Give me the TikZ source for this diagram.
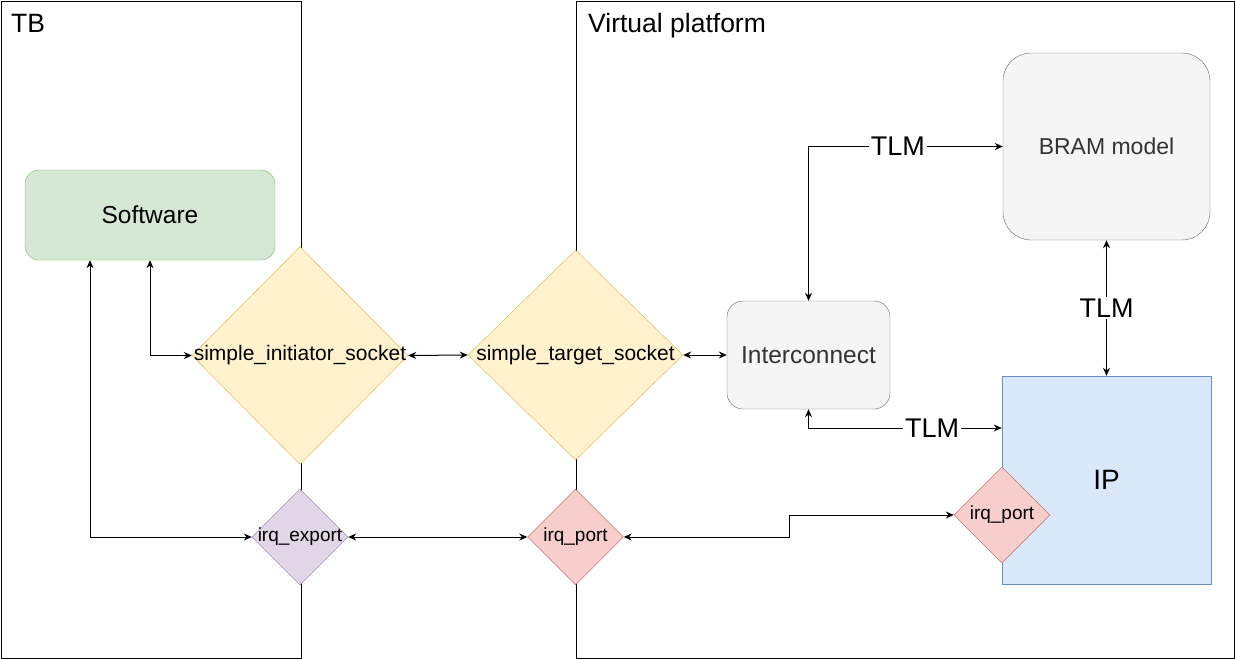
\documentclass[tikz,border=0pt]{standalone}
\usepackage{fontspec}
\setmainfont{Liberation Sans}
\usetikzlibrary{positioning, arrows.meta, shapes.geometric}
\definecolor{swFill}{HTML}{D5E8D4}
\definecolor{swDraw}{HTML}{82B366}
\definecolor{sockFill}{HTML}{FFF2CC}
\definecolor{sockDraw}{HTML}{D6B656}
\definecolor{expFill}{HTML}{E1D5E7}
\definecolor{expDraw}{HTML}{9673A6}
\definecolor{irqFill}{HTML}{F8CECC}
\definecolor{irqDraw}{HTML}{B85450}
\definecolor{modFill}{HTML}{F5F5F5}
\definecolor{modDraw}{HTML}{666666}
\definecolor{modText}{HTML}{333333}
\definecolor{ipFill}{HTML}{DAE8FC}
\definecolor{ipDraw}{HTML}{6C8EBF}

\begin{document}
\begin{tikzpicture}[
  x=1pt, y=-1pt,
  every node/.style={align=center},
  frame/.style={draw, line width=1pt, inner sep=0pt, anchor=north west},
  title/.style={font=\fontsize{26.5}{30}\selectfont, anchor=base west, inner sep=0pt},
  software/.style={
    fill=swFill,
    draw=swDraw,
    rounded corners=14pt,
    minimum width=250pt,
    minimum height=90pt,
    font=\fontsize{24.5}{28}\selectfont
  },
  model/.style={
    fill=modFill,
    draw=modDraw,
    text=modText,
    font=\fontsize{23}{28}\selectfont
  },
  socket/.style={
    diamond,
    fill=sockFill,
    draw=sockDraw,
    inner sep=0pt
  },
  irq/.style={
    diamond,
    fill=irqFill,
    draw=irqDraw,
    inner sep=0pt,
    minimum width=96pt,
    minimum height=96pt
  },
  socktxt/.style={font=\fontsize{21}{25}\selectfont, inner sep=0pt},
  irqtxt/.style={font=\fontsize{19}{23}\selectfont, inner sep=0pt},
  tlm/.style={font=\fontsize{27}{30}\selectfont, fill=white, inner sep=2pt},
  link/.style={draw, line width=1pt,
    {Stealth[length=8pt, width=7pt]}-{Stealth[length=8pt, width=7pt]}}
]
\useasboundingbox (0,0) rectangle (1235,659);

% containers
\node[frame, minimum width=300pt, minimum height=657pt] (tb) at (0.5,0.5) {};
\node[frame, minimum width=658pt, minimum height=657pt] (vp) at (575.5,0.5) {};
\node[title] (tbtitle) at (11,32) {TB};
\node[title] (vptitle) at (588,32) {Virtual platform};

% blocks
\node[software] (sw) at (150,215) {Software};
\node[model, rounded corners=16pt, minimum width=163pt, minimum height=108pt,
  font=\fontsize{24.5}{28}\selectfont] (ic) at (808.5,355) {Interconnect};
\node[model, rounded corners=28pt, minimum width=207pt, minimum height=187pt] (bram) at (1106.5,146.5) {BRAM model};
\node[fill=ipFill, draw=ipDraw, minimum width=209pt, minimum height=208pt,
  font=\fontsize{28}{32}\selectfont] (ip) at (1106.5,480) {IP};

% sockets and ports
\node[socket, minimum width=216pt, minimum height=218pt] (init) at (300,355.5) {};
\node[socktxt] (inittxt) at (init) {simple\_initiator\_socket};
\node[socket, minimum width=215pt, minimum height=210pt] (tgt) at (575.5,355) {};
\node[socktxt] (tgttxt) at (tgt) {simple\_target\_socket};
\node[irq, fill=expFill, draw=expDraw] (irqexp) at (300,537) {};
\node[irqtxt] (irqexptxt) at (irqexp) {irq\_export};
\node[irq] (irqvp) at (575.5,537) {};
\node[irqtxt] (irqvptxt) at (irqvp) {irq\_port};
\node[irq] (irqip) at (1002,515) {};
\node[irqtxt] (irqiptxt) at (irqip) {irq\_port};

% connections
\draw[link] ([xshift=-60pt]sw.south) |- (irqexp.west);
\draw[link] (sw.south) |- (init.west);
\draw[link] (init.east) -- (tgt.west);
\draw[link] (tgt.east) -- (ic.west);
\draw[link] (irqexp.east) -- (irqvp.west);
\draw[link] (irqvp.east) -- ++(166,0) |- (irqip.west);
\draw[link] (bram.west) -| (ic.north) node[tlm, pos=0.27] (tlmtop) {TLM};
\draw[link] (bram.south) -- (ip.north) node[tlm, midway] (tlmright) {TLM};
\draw[link] (ic.south) |- ([yshift=52pt]ip.west) node[tlm, pos=0.82] (tlmlow) {TLM};

\end{tikzpicture}
\end{document}
